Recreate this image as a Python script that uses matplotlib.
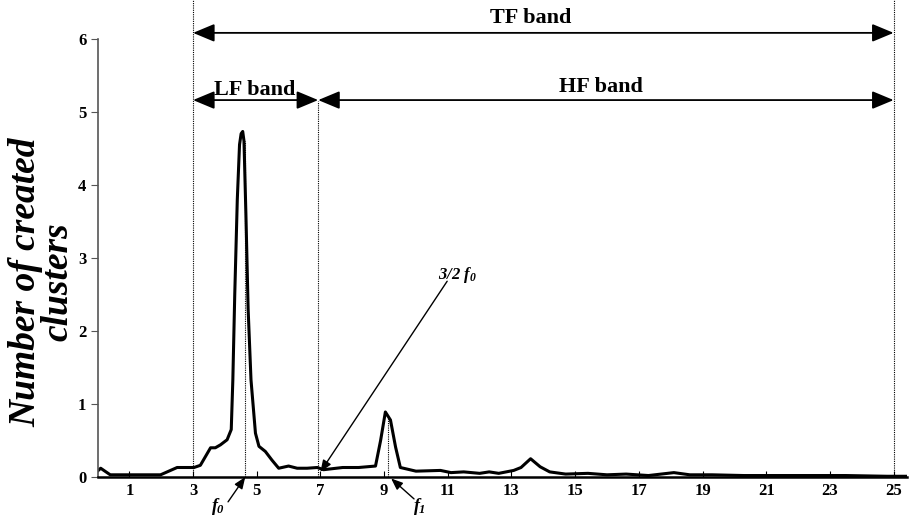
import matplotlib
matplotlib.use("Agg")
import matplotlib.pyplot as plt

plt.rcParams["font.family"] = ["Liberation Serif", "DejaVu Serif"]
plt.rcParams["mathtext.fontset"] = "custom"
plt.rcParams["mathtext.it"] = "Liberation Serif:italic:bold"
plt.rcParams["mathtext.rm"] = "Liberation Serif:italic:bold"

# spectrum of created clusters vs frequency (Hz)
freq = [0.0, 0.1, 0.4, 1.0, 1.98, 2.5, 3.03, 3.23, 3.55, 3.7, 3.86, 4.07, 4.2,
        4.25, 4.31, 4.39, 4.46, 4.51, 4.56, 4.6, 4.66, 4.73, 4.82, 4.96, 5.07,
        5.27, 5.48, 5.69, 6.0, 6.27, 6.58, 6.9, 7.1, 7.7, 8.2, 8.73, 8.89, 9.04,
        9.2, 9.36, 9.51, 10.0, 10.77, 11.1, 11.5, 12.0, 12.3, 12.6, 13.07, 13.3,
        13.6, 13.9, 14.2, 14.7, 15.4, 16.0, 16.6, 17.3, 18.1, 18.6, 19.3, 20.3,
        21.4, 22.4, 23.5, 24.8, 25.42]
clusters = [0.08, 0.12, 0.03, 0.03, 0.03, 0.13, 0.13, 0.16, 0.4, 0.4, 0.44, 0.51,
            0.65, 1.33, 2.5, 3.8, 4.55, 4.7, 4.73, 4.6, 3.6, 2.3, 1.33, 0.6, 0.42,
            0.35, 0.23, 0.12, 0.15, 0.12, 0.12, 0.13, 0.1, 0.13, 0.13, 0.15, 0.5,
            0.89, 0.78, 0.41, 0.13, 0.08, 0.09, 0.06, 0.07, 0.05, 0.07, 0.05, 0.09,
            0.13, 0.25, 0.14, 0.07, 0.04, 0.05, 0.03, 0.04, 0.02, 0.06, 0.03, 0.03,
            0.02, 0.02, 0.02, 0.02, 0.01, 0.01]

x_ticks = list(range(1, 26, 2))
y_ticks = list(range(0, 7))

f0 = 4.62
f1 = 9.12
band_edge = 6.93
tf_band = (3, 25)
lf_band = (3, band_edge)
hf_band = (band_edge, 25)

fig = plt.figure(figsize=(9.09, 5.18), dpi=100)
ax = fig.add_axes([97.5 / 909, 1 - 477 / 518, (907 - 97.5) / 909, 477 / 518])

ax.plot(freq, clusters, color="black", lw=2.2, solid_joinstyle="round")

ax.set_xlim(0, 25.42)
ax.set_ylim(0, 6.53)

for s in ["top", "right"]:
    ax.spines[s].set_visible(False)
ax.spines["left"].set_bounds(0, 6)
ax.spines["left"].set_color("#555555")
ax.spines["left"].set_linewidth(1.2)
ax.spines["bottom"].set_color("black")
ax.spines["bottom"].set_linewidth(1.8)

ax.set_xticks(x_ticks)
ax.set_yticks(y_ticks)
ax.tick_params(axis="x", direction="in", length=4, labelsize=12, pad=4)
ax.tick_params(axis="y", direction="out", length=5, labelsize=12, pad=3,
               color="#555555")
for lab in ax.get_xticklabels() + ax.get_yticklabels():
    lab.set_fontweight("bold")

fig.text(42 / 909, 1 - 282 / 518, "Number of created\nclusters", rotation=90,
         ha="center", va="center", fontsize=27, fontweight="bold",
         fontstyle="italic", linespacing=0.92)

# band boundaries
dot = dict(color="black", lw=0.8, ls=(0, (1, 1)))
ax.plot([3, 3], [0, 6.53], **dot)
ax.plot([25, 25], [0, 6.53], **dot)
ax.plot([band_edge, band_edge], [0, 5.15], **dot)
ax.plot([f0, f0], [0, 4.6], **dot)
ax.plot([f1, f1], [0, 0.85], **dot)

arr = dict(arrowstyle="<|-|>,head_length=0.6,head_width=0.25", color="black",
           lw=1.3, mutation_scale=22, shrinkA=0, shrinkB=0)
ax.annotate("", xy=(tf_band[1], 6.08), xytext=(tf_band[0], 6.08), arrowprops=arr)
ax.annotate("", xy=(lf_band[1], 5.16), xytext=(lf_band[0], 5.16), arrowprops=arr)
ax.annotate("", xy=(hf_band[1], 5.16), xytext=(hf_band[0], 5.16), arrowprops=arr)

ax.text(13.6, 6.29, "TF band", ha="center", va="center", fontsize=16,
        fontweight="bold")
ax.text(4.93, 5.3, "LF band", ha="center", va="center", fontsize=16,
        fontweight="bold")
ax.text(15.8, 5.34, "HF band", ha="center", va="center", fontsize=16,
        fontweight="bold")

# peak annotations
thin = dict(arrowstyle="-|>,head_length=0.5,head_width=0.2", color="black",
            lw=1.0, mutation_scale=14, shrinkA=0, shrinkB=0)
ax.annotate("", xy=(4.64, 0.0), xytext=(4.1, -0.34), arrowprops=thin,
            annotation_clip=False)
ax.text(3.8, -0.4, r"$f_0$", ha="center", va="center", fontsize=13)
ax.annotate("", xy=(9.22, -0.02), xytext=(9.94, -0.3), arrowprops=thin,
            annotation_clip=False)
ax.text(10.1, -0.4, r"$f_1$", ha="center", va="center", fontsize=13)

ax.annotate("", xy=(7.0, 0.07), xytext=(10.98, 2.68), arrowprops=thin)
ax.text(10.7, 2.77, r"3/2 $f_0$", ha="left", va="center", fontsize=12,
        fontweight="bold", fontstyle="italic")

fig.savefig("out.png", dpi=100)
